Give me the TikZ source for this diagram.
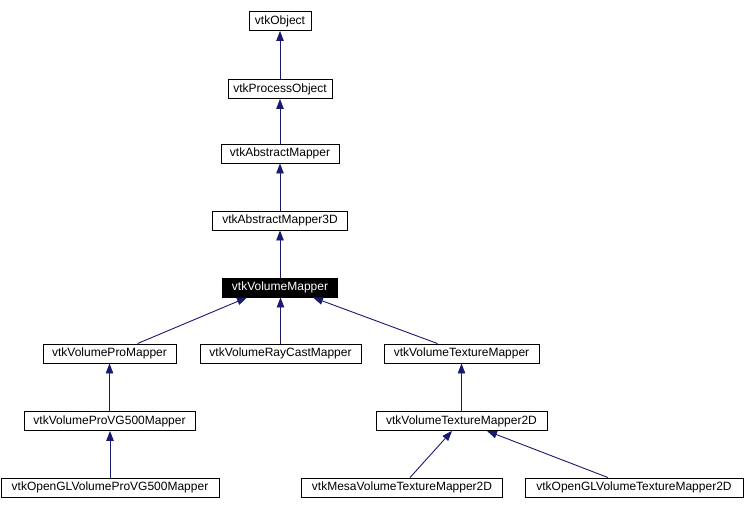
\documentclass[tikz,border=0pt]{standalone}
\usepackage{fontspec}
\setmainfont{Liberation Sans}
\usetikzlibrary{arrows.meta}
\definecolor{edgeblue}{RGB}{25,25,112}

\begin{document}
\begin{tikzpicture}[x=1pt,y=-1pt,
        box/.style={draw=black,line width=0.9pt,inner sep=0pt,minimum height=19pt,font=\fontsize{12}{14}\selectfont},
        inh/.style={draw=edgeblue,line width=0.9pt,-{Triangle[length=10pt,width=7.5pt]}}]
        \useasboundingbox (0,0) rectangle (746,509);

        \node[box,minimum width=62pt]  (obj)    at (280,21)    {vtkObject};
        \node[box,minimum width=104pt] (proc)   at (280,89)    {vtkProcessObject};
        \node[box,minimum width=118pt] (absmap) at (280,153.5) {vtkAbstractMapper};
        \node[box,minimum width=135pt] (abs3d)  at (280,220.5) {vtkAbstractMapper3D};
        \node[box,minimum width=115pt,fill=black,text=white] (volmap) at (280,287.5) {vtkVolumeMapper};

        \node[box,minimum width=133pt] (promap) at (109.5,353.5) {vtkVolumeProMapper};
        \node[box,minimum width=161pt] (raycast) at (280.5,353.5) {vtkVolumeRayCastMapper};
        \node[box,minimum width=155pt] (texmap) at (461.5,353.5) {vtkVolumeTextureMapper};

        \node[box,minimum width=171pt] (provg) at (109.5,421) {vtkVolumeProVG500Mapper};
        \node[box,minimum width=171pt] (tex2d) at (461.5,421) {vtkVolumeTextureMapper2D};

        \node[box,minimum width=218pt] (oglpro) at (110,487.5) {vtkOpenGLVolumeProVG500Mapper};
        \node[box,minimum width=201pt] (mesa)   at (402,487.5) {vtkMesaVolumeTextureMapper2D};
        \node[box,minimum width=218pt] (ogltex) at (634,487.5) {vtkOpenGLVolumeTextureMapper2D};

        % inheritance
        \draw[inh] (proc.north) -- (obj.south);
        \draw[inh] (absmap.north) -- (proc.south);
        \draw[inh] (abs3d.north) -- (absmap.south);
        \draw[inh] (volmap.north) -- (abs3d.south);
        \draw[inh] ([xshift=28pt]promap.north) -- ([xshift=-33pt]volmap.south);
        \draw[inh] (raycast.north) -- (raycast.north |- volmap.south);
        \draw[inh] ([xshift=-24pt]texmap.north) -- ([xshift=33pt]volmap.south);
        \draw[inh] (provg.north) -- (promap.south);
        \draw[inh] (oglpro.north) -- (oglpro.north |- provg.south);
        \draw[inh] (tex2d.north) -- (texmap.south);
        \draw[inh] ([xshift=8pt]mesa.north) -- ([xshift=-9.5pt]tex2d.south);
        \draw[inh] ([xshift=-26pt]ogltex.north) -- ([xshift=25.5pt]tex2d.south);
\end{tikzpicture}
\end{document}
